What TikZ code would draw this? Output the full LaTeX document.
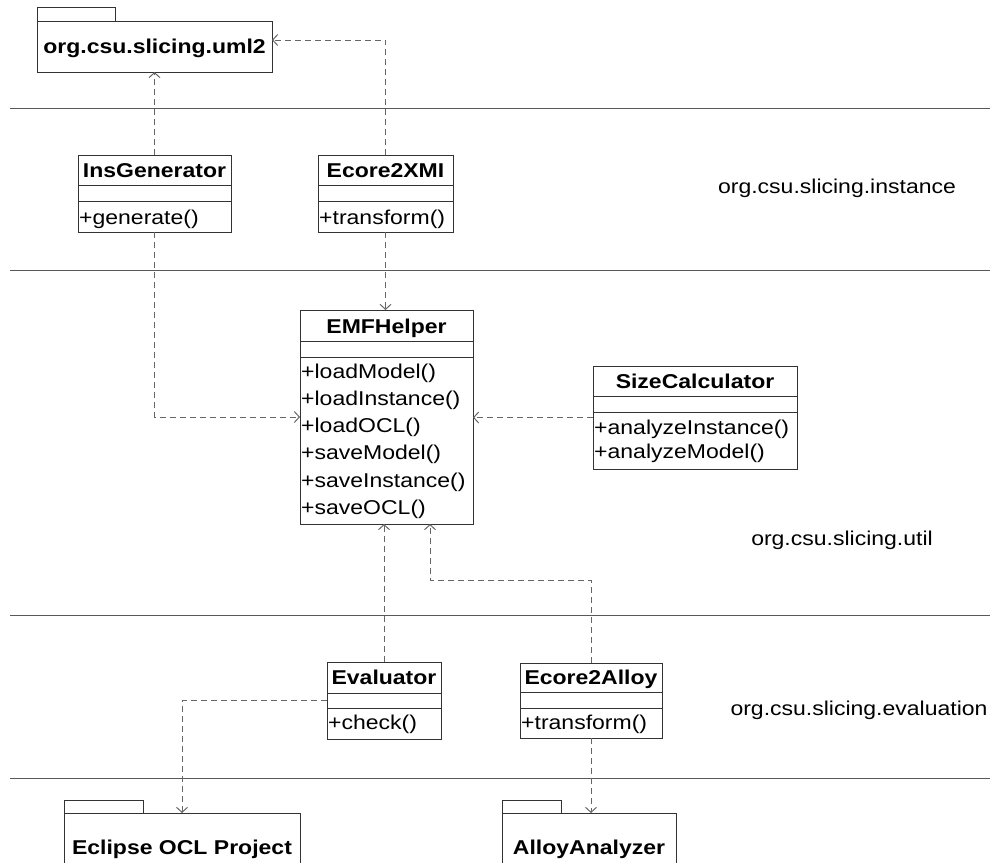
\documentclass[tikz,border=0pt]{standalone}
\usepackage{fontspec}
\setmainfont[FakeStretch=1.15]{Liberation Sans}
\usetikzlibrary{arrows.meta,calc}
\begin{document}
\begin{tikzpicture}[x=1pt,y=-1pt,
  box/.style={draw=black!80, line width=1pt, inner sep=0pt, outer sep=0pt, anchor=north west},
  rowline/.style={draw=black!80, line width=1pt},
  ttl/.style={font=\fontsize{20}{24}\selectfont\bfseries, inner sep=0pt, anchor=base},
  mth/.style={font=\fontsize{20}{24}\selectfont, inner sep=0pt, anchor=base west},
  lbl/.style={font=\fontsize{20}{24}\selectfont, inner sep=0pt, anchor=base},
  layer/.style={draw=black!65, line width=1pt},
  dep/.style={draw=black!60, line width=1pt, dash pattern=on 6pt off 4pt,
    -{Straight Barb[length=5pt,width=11pt]}}]
\useasboundingbox (0,0) rectangle (990,862);
\clip (0,0) rectangle (990,862);

% layer separators
\coordinate (l1a) at (10,108); \coordinate (l1b) at (990,108);
\coordinate (l2a) at (10,270); \coordinate (l2b) at (990,270);
\coordinate (l3a) at (10,615); \coordinate (l3b) at (990,615);
\coordinate (l4a) at (10,778); \coordinate (l4b) at (990,778);
\draw[layer] (l1a) -- (l1b);
\draw[layer] (l2a) -- (l2b);
\draw[layer] (l3a) -- (l3b);
\draw[layer] (l4a) -- (l4b);

% layer labels
\node[lbl] (lblinst) at (837,193) {org.csu.slicing.instance};
\node[lbl] (lblutil) at (842,545) {org.csu.slicing.util};
\node[lbl] (lbleval) at (859,715) {org.csu.slicing.evaluation};

% package org.csu.slicing.uml2
\node[box, minimum width=78pt, minimum height=14pt] (umltab) at (37,7) {};
\node[box, minimum width=235pt, minimum height=51pt] (uml) at (37,21) {};
\node[ttl] (umlname) at (154.5,53) {org.csu.slicing.uml2};

% InsGenerator
\node[box, minimum width=153pt, minimum height=77pt] (ins) at (78,155) {};
\draw[rowline] (78,185) -- (231,185);
\draw[rowline] (78,201) -- (231,201);
\node[ttl] (insname) at (154.5,177) {InsGenerator};
\node[mth] (insm1) at (79,224) {+generate()};

% Ecore2XMI
\node[box, minimum width=135pt, minimum height=77pt] (xmi) at (318,155) {};
\draw[rowline] (318,185) -- (453,185);
\draw[rowline] (318,201) -- (453,201);
\node[ttl] (xminame) at (385.5,177) {Ecore2XMI};
\node[mth] (xmim1) at (319,224) {+transform()};

% EMFHelper
\node[box, minimum width=173pt, minimum height=214pt] (emf) at (300,310) {};
\draw[rowline] (300,341) -- (473,341);
\draw[rowline] (300,357) -- (473,357);
\node[ttl] (emfname) at (386.5,333) {EMFHelper};
\node[mth] (emfm1) at (301,378) {+loadModel()};
\node[mth] (emfm2) at (301,405) {+loadInstance()};
\node[mth] (emfm3) at (301,432) {+loadOCL()};
\node[mth] (emfm4) at (301,459) {+saveModel()};
\node[mth] (emfm5) at (301,487) {+saveInstance()};
\node[mth] (emfm6) at (301,514) {+saveOCL()};

% SizeCalculator
\node[box, minimum width=204pt, minimum height=103pt] (size) at (593,366) {};
\draw[rowline] (593,396) -- (797,396);
\draw[rowline] (593,412) -- (797,412);
\node[ttl] (sizename) at (695,388) {SizeCalculator};
\node[mth] (sizem1) at (594,434) {+analyzeInstance()};
\node[mth] (sizem2) at (594,458) {+analyzeModel()};

% Evaluator
\node[box, minimum width=114pt, minimum height=77pt] (eval) at (327,662) {};
\draw[rowline] (327,693) -- (441,693);
\draw[rowline] (327,708) -- (441,708);
\node[ttl] (evalname) at (384,684.5) {Evaluator};
\node[mth] (evalm1) at (328,729) {+check()};

% Ecore2Alloy
\node[box, minimum width=142pt, minimum height=75pt] (e2a) at (520,663) {};
\draw[rowline] (520,692) -- (662,692);
\draw[rowline] (520,708) -- (662,708);
\node[ttl] (e2aname) at (591,684.5) {Ecore2Alloy};
\node[mth] (e2am1) at (521,729) {+transform()};

% package Eclipse OCL Project
\node[box, minimum width=79pt, minimum height=13pt] (ocltab) at (64,800) {};
\node[box, minimum width=236pt, minimum height=70pt] (ocl) at (64,813) {};
\node[ttl] (oclname) at (182,854) {Eclipse OCL Project};

% package AlloyAnalyzer
\node[box, minimum width=59pt, minimum height=13pt] (aatab) at (502,800) {};
\node[box, minimum width=174pt, minimum height=70pt] (aa) at (502,813) {};
\node[ttl] (aaname) at (589,854) {AlloyAnalyzer};

% dependencies
\draw[dep] (ins.north) -- (uml.south);
\draw[dep] (xmi.north) |- ([yshift=6.5pt]uml.east);
\draw[dep] (xmi.south) -- (xmi.south |- emf.north);
\draw[dep] (ins.south) |- (emf.west);
\draw[dep] (size.west) -- (size.west -| emf.east);
\draw[dep] (eval.north) -- (eval.north |- emf.south);
\coordinate (bend) at (430,580);
\draw[dep] (e2a.north) |- (bend) -- (bend |- emf.south);
\draw[dep] (eval.west) -| (ocl.north);
\draw[dep] (e2a.south) -- (e2a.south |- aa.north);
\end{tikzpicture}
\end{document}
